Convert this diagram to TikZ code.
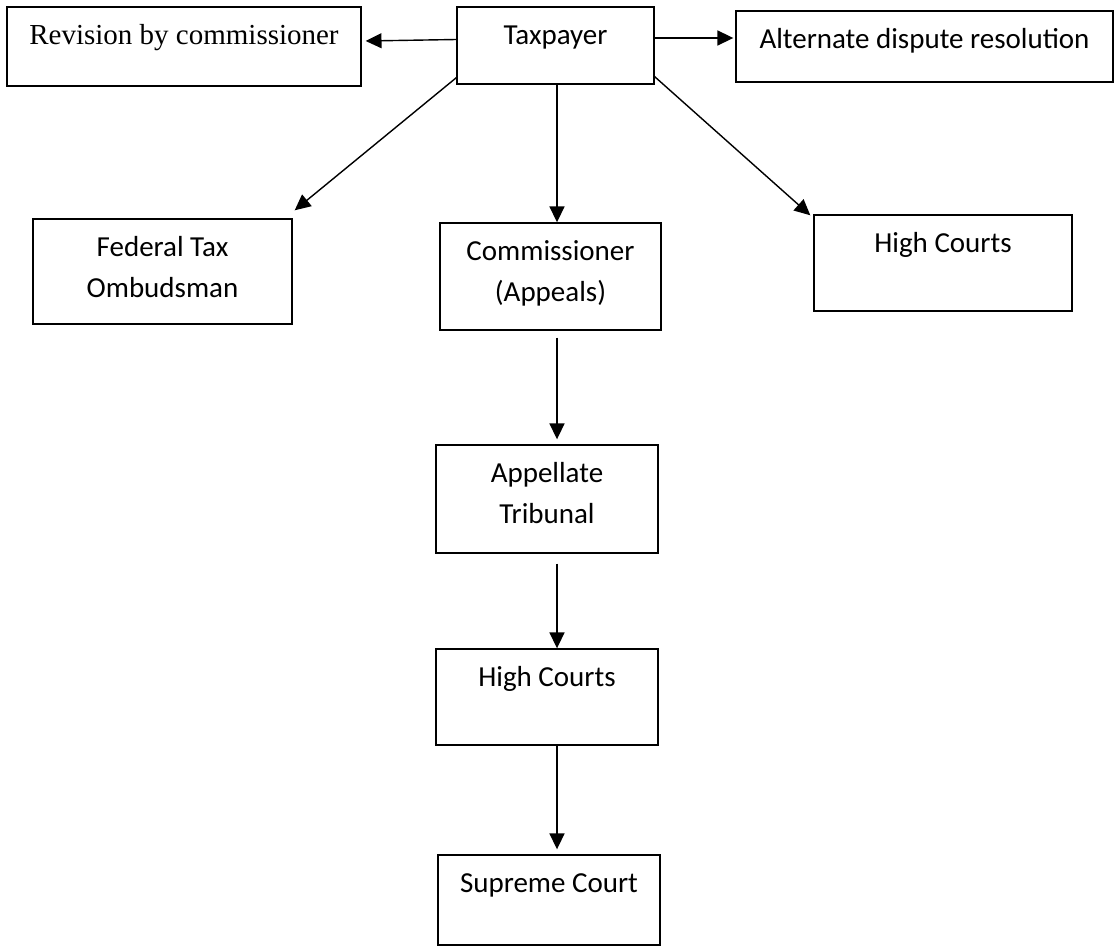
\documentclass[tikz,border=0pt]{standalone}
\usepackage{fontspec}
\setmainfont{Carlito}
\newfontfamily\timesfont{Liberation Serif}
\usetikzlibrary{arrows.meta,fit}
\tikzset{
  box/.style={draw, line width=0.8pt, inner sep=0pt},
  txt/.style={anchor=base, yshift=-0.76cm, inner sep=0pt, align=center,
    font=\fontsize{16.5}{23.2}\selectfont},
  txttwo/.style={txt, yshift=-0.82cm},
  arr/.style={line width=0.8pt, -{Triangle[length=9pt,width=8.5pt]}}
}
\begin{document}
\begin{tikzpicture}[x=0.02cm,y=-0.02cm]
    \useasboundingbox (0,0) rectangle (1115,949);
    % top row
    \node[box, fit={(7,7) (361,86)}] (rev) {};
    \node[txt] at (rev.north) {\timesfont Revision by commissioner};
    \node[box, fit={(457,7) (654,84)}] (tax) {};
    \node[txt] at (tax.north) {Taxpayer};
    \node[box, fit={(736,11) (1113,82)}] (alt) {};
    \node[txt] at (alt.north) {Alternate dispute resolution};
    % second row
    \node[box, fit={(33,219) (292,324)}] (fto) {};
    \node[txttwo] at (fto.north) {Federal Tax\\Ombudsman};
    \node[box, fit={(440,223) (661,330)}] (com) {};
    \node[txttwo] at (com.north) {Commissioner\\(Appeals)};
    \node[box, fit={(814,215) (1072,311)}] (hcr) {};
    \node[txt] at (hcr.north) {High Courts};
    % chain of appeal
    \node[box, fit={(436,445) (658,553)}] (apt) {};
    \node[txttwo] at (apt.north) {Appellate\\Tribunal};
    \node[box, fit={(436,649) (658,745)}] (hcc) {};
    \node[txt] at (hcc.north) {High Courts};
    \node[box, fit={(438,855) (660,945)}] (sup) {};
    \node[txt] at (sup.north) {Supreme Court};
    \coordinate (spine) at (557,0);
    % arrows
    \draw[arr] ([yshift=0.12cm]tax.west) -- ([xshift=0.08cm,yshift=0.11cm]rev.east);
    \draw[arr] ([yshift=0.15cm]tax.east) -- ([xshift=-0.04cm,yshift=0.15cm]tax.east -| alt.west);
    \draw[arr] ([yshift=0.14cm]tax.south west) -- ([shift={(2,-8)}]fto.north east);
    \draw[arr] (tax.south -| spine) -- (com.north -| spine);
    \draw[arr] ([yshift=0.16cm]tax.south east) -- ([shift={(-3,1)}]hcr.north west);
    \draw[arr] ([yshift=-0.14cm]com.south -| spine) -- ([yshift=0.1cm]apt.north -| spine);
    \draw[arr] ([yshift=-0.2cm]apt.south -| spine) -- (hcc.north -| spine);
    \draw[arr] (hcc.south -| spine) -- ([yshift=0.1cm]sup.north -| spine);
\end{tikzpicture}
\end{document}
